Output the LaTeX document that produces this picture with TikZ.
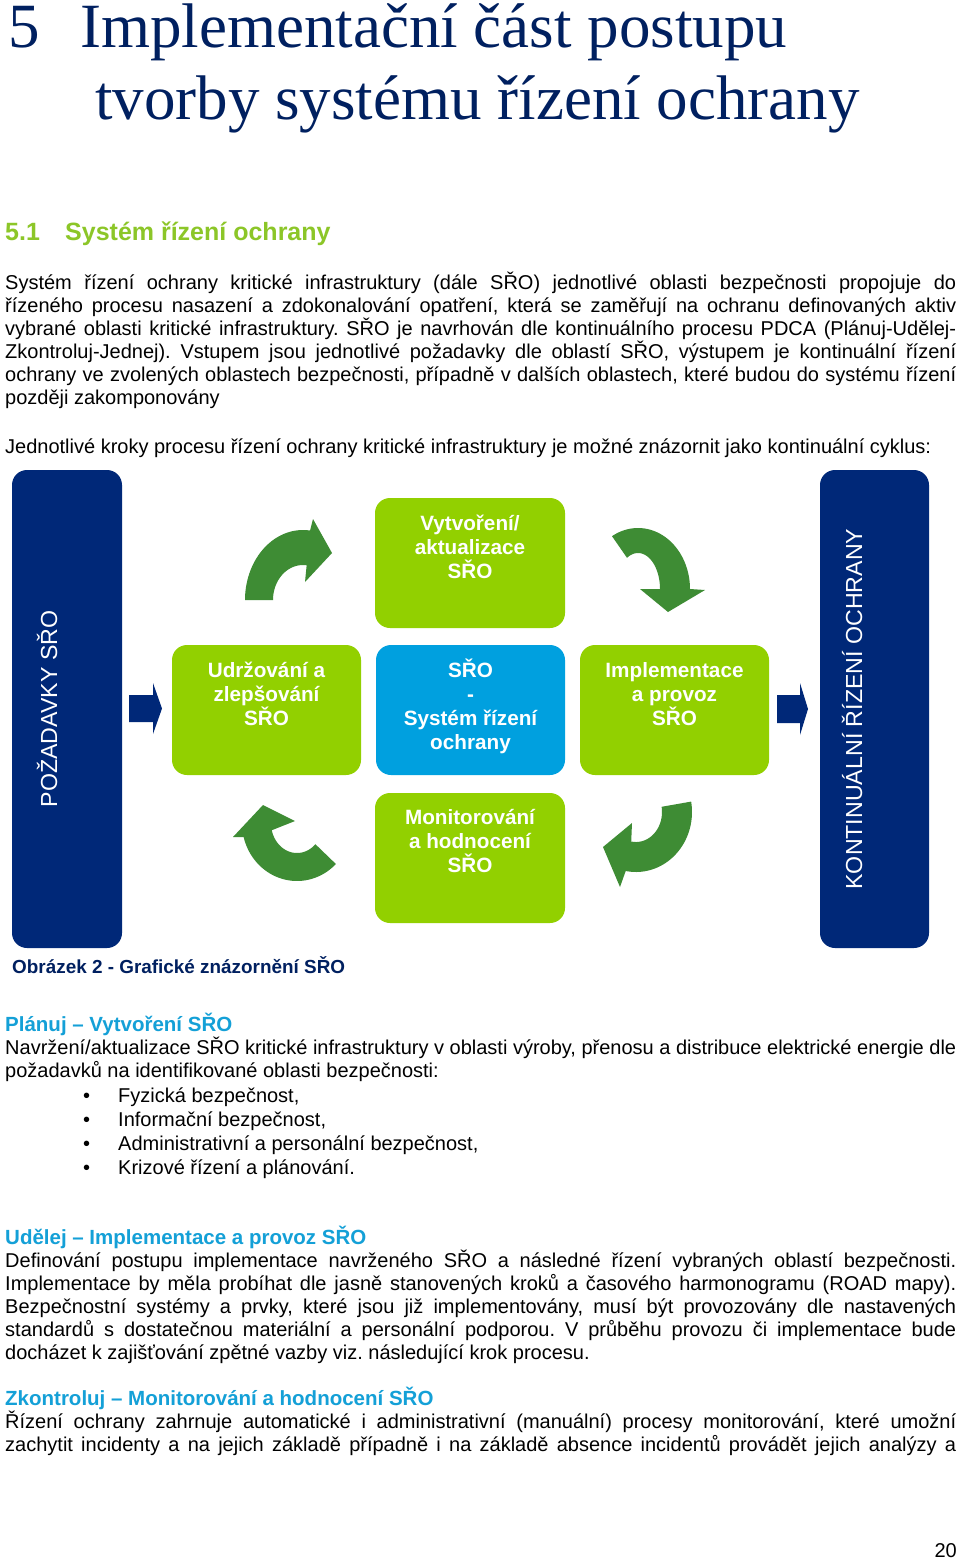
\documentclass[tikz,border=0pt]{standalone}
\usepackage{fontspec}
\setmainfont{Liberation Sans}
\newfontfamily\titlefont{Liberation Serif}
\frenchspacing
\definecolor{navy}{RGB}{0,40,120}
\definecolor{titlenavy}{RGB}{0,32,96}
\definecolor{lime}{RGB}{146,208,0}
\definecolor{skyblue}{RGB}{0,160,223}
\definecolor{darkgreen}{RGB}{62,140,52}
\definecolor{headgreen}{RGB}{140,198,40}
\definecolor{headblue}{RGB}{20,160,215}
\newcommand{\jtext}[1]{\makebox[951pt][s]{#1}}
\begin{document}
\begin{tikzpicture}[x=1pt,y=-1pt,
  body/.style={anchor=base west, inner sep=0pt, font=\fontsize{20}{23}\selectfont},
  subhead/.style={anchor=base west, inner sep=0pt, text=headblue, font=\fontsize{20.5}{24}\selectfont\bfseries},
  titletxt/.style={anchor=base west, inner sep=0pt, text=titlenavy, font=\titlefont\fontsize{63}{70}\selectfont},
  sectxt/.style={anchor=base west, inner sep=0pt, text=headgreen, font=\fontsize{25}{29}\selectfont\bfseries},
  gbox/.style={fill=lime, rounded corners=15pt, minimum width=190pt, minimum height=130pt, inner sep=0pt},
  bbox/.style={gbox, fill=skyblue},
  boxtxt/.style={anchor=north, inner sep=0pt, align=center, text=white, font=\fontsize{20.7}{24.2}\selectfont\bfseries},
  navybar/.style={fill=navy, rounded corners=15pt, minimum width=110pt, minimum height=478pt, inner sep=0pt},
  bartxt/.style={anchor=base, rotate=90, inner sep=0pt, text=white, font=\fontsize{23.2}{26}\selectfont},
  cyclearrow/.style={fill=darkgreen},
  blockarrow/.style={fill=navy}]
\useasboundingbox (0,0) rectangle (960,1561);
\fill[white] (0,0) rectangle (960,1561);

% title
\node[titletxt] (t5) at (8,47) {5};
\node[titletxt] (t1) at (80,47) {Implementační část postupu};
\node[titletxt] (t2) at (95,119) {tvorby systému řízení ochrany};

% section
\node[sectxt] (s51) at (5,240) {5.1};
\node[sectxt] (s51t) at (65,240) {Systém řízení ochrany};

% paragraph 1
\node[body] (p1a) at (5,289) {\jtext{Systém řízení ochrany kritické infrastruktury (dále SŘO) jednotlivé oblasti bezpečnosti propojuje do}};
\node[body] (p1b) at (5,312) {\jtext{řízeného procesu nasazení a zdokonalování opatření, která se zaměřují na ochranu definovaných aktiv}};
\node[body] (p1c) at (5,335) {\jtext{vybrané oblasti kritické infrastruktury. SŘO je navrhován dle kontinuálního procesu PDCA (Plánuj-Udělej-}};
\node[body] (p1d) at (5,358) {\jtext{Zkontroluj-Jednej). Vstupem jsou jednotlivé požadavky dle oblastí SŘO, výstupem je kontinuální řízení}};
\node[body] (p1e) at (5,381) {\jtext{ochrany ve zvolených oblastech bezpečnosti, případně v dalších oblastech, které budou do systému řízení}};
\node[body] (p1f) at (5,404) {později zakomponovány};
\node[body] (p2) at (5,453) {Jednotlivé kroky procesu řízení ochrany kritické infrastruktury je možné znázornit jako kontinuální cyklus:};

% diagram: bars
\node[navybar] (req) at (67,709) {};
\node[bartxt] (reqt) at (57,709) {POŽADAVKY SŘO};
\node[navybar, minimum width=109pt] (out) at (874.5,709) {};
\node[bartxt] (outt) at (862,709) {KONTINUÁLNÍ ŘÍZENÍ OCHRANY};

% diagram: boxes
\node[gbox] (plan) at (470,563) {};
\node[boxtxt] (plant) at (470,510) {\rule{0pt}{20pt}Vytvoření/\\aktualizace\\SŘO};
\node[gbox, minimum width=189pt] (act) at (266.5,710) {};
\node[boxtxt] (actt) at (266.5,657) {\rule{0pt}{20pt}Udržování a\\zlepšování\\SŘO};
\node[bbox, minimum width=189pt] (core) at (470.5,710) {};
\node[boxtxt] (coret) at (470.5,657) {\rule{0pt}{20pt}SŘO\\-\\Systém řízení\\ochrany};
\node[gbox, minimum width=189pt] (do) at (674.5,710) {};
\node[boxtxt] (dot) at (674.5,657) {\rule{0pt}{20pt}Implementace\\a provoz\\SŘO};
\node[gbox] (check) at (470,858) {};
\node[boxtxt] (checkt) at (470,804) {\rule{0pt}{20pt}Monitorování\\a hodnocení\\SŘO};

% block arrows
\fill[blockarrow] (129,695) -- (153,695) -- (153,683) -- (162,708.5) -- (153,734) -- (153,722) -- (129,722) -- cycle;
\fill[blockarrow] (777,695) -- (800,695) -- (800,683) -- (808,709) -- (800,735) -- (800,723) -- (777,723) -- cycle;

% cycle arrows
\fill[cyclearrow] plot[domain=180:277, samples=40] ({303+58*cos(\x)},{600+70*sin(\x)})
  -- (313,519) -- (332,553) -- (305,582)
  -- plot[domain=277:180, samples=40] ({303+30*cos(\x)},{600+35*sin(\x)}) -- cycle;
\fill[cyclearrow] plot[domain=240:360, samples=40] ({638+52*cos(\x)},{589+61*sin(\x)})
  -- (705,590) -- (668,612) -- (640,589)
  -- plot[domain=360:240, samples=40] ({638+22*cos(\x)},{589+36*sin(\x)}) -- cycle;
\fill[cyclearrow] plot[domain=-10:100.6, samples=40] ({636+56*cos(\x)},{812+60*sin(\x)})
  -- (620,887) -- (603,847) -- (632,823)
  -- plot[domain=100.6:-10, samples=40] ({636+26*cos(\x)},{812+30*sin(\x)}) -- cycle;
\fill[cyclearrow] plot[domain=45:166, samples=40] ({297+55*cos(\x)},{823+58*sin(\x)})
  -- (233,837) -- (263,805) -- (295,821)
  -- plot[domain=166:45, samples=40] ({297+26*cos(\x)},{823+30*sin(\x)}) -- cycle;

% caption
\node[anchor=base west, inner sep=0pt, text=titlenavy, font=\fontsize{18.9}{22}\selectfont\bfseries] (cap) at (12,973) {Obrázek 2 - Grafické znázornění SŘO};

% Plánuj
\node[subhead] (h1) at (5,1031) {Plánuj – Vytvoření SŘO};
\node[body] (q1a) at (5,1054) {\jtext{Navržení/aktualizace SŘO kritické infrastruktury v oblasti výroby, přenosu a distribuce elektrické energie dle}};
\node[body] (q1b) at (5,1077) {požadavků na identifikované oblasti bezpečnosti:};
\node[body] (b1) at (83,1102) {•};
\node[body] (b1t) at (118,1102) {Fyzická bezpečnost,};
\node[body] (b2) at (83,1126) {•};
\node[body] (b2t) at (118,1126) {Informační bezpečnost,};
\node[body] (b3) at (83,1150) {•};
\node[body] (b3t) at (118,1150) {Administrativní a personální bezpečnost,};
\node[body] (b4) at (83,1174) {•};
\node[body] (b4t) at (118,1174) {Krizové řízení a plánování.};

% Udělej
\node[subhead] (h2) at (5,1244) {Udělej – Implementace a provoz SŘO};
\node[body] (r1) at (5,1267) {\jtext{Definování postupu implementace navrženého SŘO a následné řízení vybraných oblastí bezpečnosti.}};
\node[body] (r2) at (5,1290) {\jtext{Implementace by měla probíhat dle jasně stanovených kroků a časového harmonogramu (ROAD mapy).}};
\node[body] (r3) at (5,1313) {\jtext{Bezpečnostní systémy a prvky, které jsou již implementovány, musí být provozovány dle nastavených}};
\node[body] (r4) at (5,1336) {\jtext{standardů s~dostatečnou materiální a personální podporou. V~průběhu provozu či implementace bude}};
\node[body] (r5) at (5,1359) {docházet k~zajišťování zpětné vazby viz. následující krok procesu.};

% Zkontroluj
\node[subhead] (h3) at (5,1405) {Zkontroluj – Monitorování a hodnocení SŘO};
\node[body] (z1) at (5,1428) {\jtext{Řízení ochrany zahrnuje automatické i administrativní (manuální) procesy monitorování, které umožní}};
\node[body] (z2) at (5,1451) {\jtext{zachytit incidenty a na jejich základě případně i na základě absence incidentů provádět jejich analýzy a}};

% page number
\node[anchor=base east, inner sep=0pt, font=\fontsize{20}{23}\selectfont] (pg) at (957,1557) {20};
\end{tikzpicture}
\end{document}
